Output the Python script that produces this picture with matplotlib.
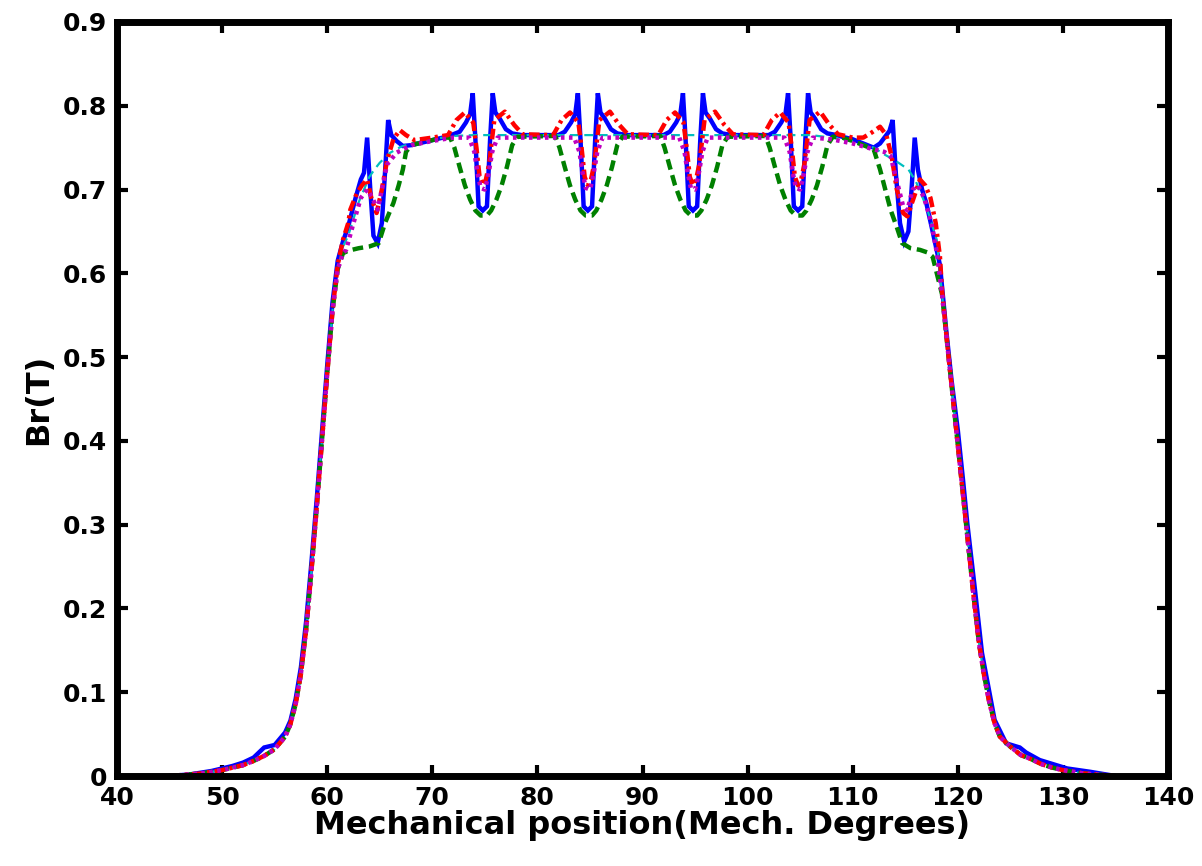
import matplotlib
matplotlib.use("Agg")
import matplotlib.pyplot as plt

# ---------------- data ----------------
blue_x = [45, 46, 47, 48, 49, 50, 51, 52, 53, 54, 55, 56, 56.5, 57, 57.5, 58, 58.5, 59, 59.5, 60, 60.5, 61, 61.5,
          62, 62.7, 63.2, 63.5, 63.8, 64.1, 64.4, 64.8, 65.2, 65.5, 65.8, 66.1, 66.6, 67.2, 68, 69, 70, 71,
          72, 72.6, 73.2, 73.6, 73.85, 74.1, 74.4, 74.8, 75.2, 75.5, 75.75, 76.0, 76.4, 77.0, 77.6, 78.5,
          82, 82.6, 83.2, 83.6, 83.85, 84.1, 84.4, 84.8, 85.2, 85.5, 85.75, 86.0, 86.4, 87.0, 87.6, 88.5,
          92, 92.6, 93.2, 93.6, 93.85, 94.1, 94.4, 94.8, 95.2, 95.5, 95.75, 96.0, 96.4, 97.0, 97.6, 98.5,
          102, 102.6, 103.2, 103.6, 103.85, 104.1, 104.4, 104.8, 105.2, 105.5, 105.75, 106.0, 106.4, 107.0, 107.6, 108.5,
          109, 110, 111, 112, 112.6, 113.2, 113.5, 113.8, 114.1, 114.5, 114.9, 115.3, 115.6, 115.9, 116.2, 116.6,
          117, 117.5, 118.3, 118.9, 119.4, 120, 120.5, 120.9, 121.6, 122.3, 123.1, 123.5, 124.6, 125.9, 126.5,
          127.8, 130.4, 132.6, 135]
blue_y = [0, 0.001, 0.002, 0.004, 0.006, 0.009, 0.012, 0.016, 0.022, 0.034, 0.037, 0.052, 0.066, 0.092, 0.13, 0.185, 0.255, 0.33, 0.41, 0.49, 0.565, 0.615, 0.638,
          0.656, 0.69, 0.712, 0.72, 0.762, 0.70, 0.645, 0.636, 0.66, 0.72, 0.783, 0.765, 0.758, 0.752, 0.753, 0.756, 0.759, 0.762,
          0.766, 0.769, 0.78, 0.79, 0.815, 0.76, 0.68, 0.675, 0.68, 0.76, 0.815, 0.792, 0.785, 0.772, 0.767, 0.765,
          0.765, 0.769, 0.78, 0.79, 0.815, 0.76, 0.68, 0.675, 0.68, 0.76, 0.815, 0.792, 0.785, 0.772, 0.767, 0.765,
          0.765, 0.769, 0.78, 0.79, 0.815, 0.76, 0.68, 0.675, 0.68, 0.76, 0.815, 0.792, 0.785, 0.772, 0.767, 0.765,
          0.765, 0.769, 0.78, 0.79, 0.815, 0.76, 0.68, 0.675, 0.68, 0.76, 0.815, 0.792, 0.785, 0.772, 0.767, 0.765,
          0.763, 0.76, 0.755, 0.75, 0.755, 0.765, 0.77, 0.783, 0.72, 0.66, 0.638, 0.65, 0.70, 0.762, 0.724, 0.70,
          0.684, 0.656, 0.61, 0.532, 0.473, 0.413, 0.353, 0.302, 0.226, 0.147, 0.094, 0.067, 0.039, 0.034, 0.028,
          0.019, 0.009, 0.005, 0.0]

green_x = [45, 46, 47, 48, 49, 50, 51, 52, 53, 54, 55, 56, 56.5, 57, 57.5, 58, 58.5, 59, 59.5, 60, 60.5, 61, 61.5,
           62, 63, 64, 64.9, 65.5, 66, 66.3, 66.8, 67.2, 67.5, 68, 69, 70, 71, 71.7,
           72.1, 72.6, 73.1, 73.6, 74.1, 74.6, 75.2, 75.6, 76.1, 76.6, 77.1, 77.6, 78.1, 81.7,
           82.1, 82.6, 83.1, 83.6, 84.1, 84.6, 85.2, 85.6, 86.1, 86.6, 87.1, 87.6, 88.1, 91.7,
           92.1, 92.6, 93.1, 93.6, 94.1, 94.6, 95.2, 95.6, 96.1, 96.6, 97.1, 97.6, 98.1, 101.7,
           102.1, 102.6, 103.1, 103.6, 104.1, 104.6, 105.2, 105.6, 106.1, 106.6, 107.1, 107.6, 108.1,
           109, 110, 111, 112, 112.6, 113.1, 113.6, 114.2, 114.7, 115.5, 116.4, 117.1, 117.6,
           118.5, 119, 119.5, 120, 120.5, 121, 121.5, 122, 122.5, 123, 123.5, 124, 125, 126, 127, 128, 129, 130,
           131, 132, 133, 134, 135]
green_y = [0, 0.001, 0.002, 0.003, 0.005, 0.007, 0.01, 0.013, 0.018, 0.024, 0.032, 0.047, 0.062, 0.086, 0.122, 0.175, 0.245, 0.32, 0.40, 0.48, 0.555, 0.605, 0.624,
           0.627, 0.63, 0.632, 0.636, 0.66, 0.675, 0.684, 0.705, 0.724, 0.745, 0.753, 0.756, 0.759, 0.762, 0.762,
           0.75, 0.727, 0.705, 0.688, 0.675, 0.669, 0.669, 0.675, 0.688, 0.705, 0.727, 0.753, 0.763, 0.764,
           0.75, 0.727, 0.705, 0.688, 0.675, 0.669, 0.669, 0.675, 0.688, 0.705, 0.727, 0.753, 0.763, 0.764,
           0.75, 0.727, 0.705, 0.688, 0.675, 0.669, 0.669, 0.675, 0.688, 0.705, 0.727, 0.753, 0.763, 0.764,
           0.75, 0.727, 0.705, 0.688, 0.675, 0.669, 0.669, 0.675, 0.688, 0.705, 0.727, 0.753, 0.763,
           0.762, 0.758, 0.753, 0.748, 0.724, 0.70, 0.676, 0.655, 0.636, 0.63, 0.628, 0.625, 0.62,
           0.575, 0.515, 0.455, 0.395, 0.335, 0.275, 0.215, 0.16, 0.12, 0.088, 0.063, 0.047, 0.035, 0.025, 0.02, 0.014, 0.01, 0.007,
           0.005, 0.003, 0.002, 0.001, 0.0]

red_x = [45, 46, 47, 48, 49, 50, 51, 52, 53, 54, 55, 56, 56.5, 57, 57.5, 58, 58.5, 59, 59.5, 60, 60.5, 61, 61.5,
         62, 62.2, 62.8, 63.3, 63.8, 64.2, 64.7, 65.2, 65.7, 66.3, 66.9, 67.5, 68.3, 70, 71.5,
         72.3, 73.1, 73.9, 74.2, 74.5, 74.8, 75.1, 75.4, 75.9, 76.9, 77.8, 78.6, 81.5,
         82.3, 83.1, 83.9, 84.2, 84.5, 84.8, 85.1, 85.4, 85.9, 86.9, 87.8, 88.6, 91.5,
         92.3, 93.1, 93.9, 94.2, 94.5, 94.8, 95.1, 95.4, 95.9, 96.9, 97.8, 98.6, 101.5,
         102.3, 103.1, 103.9, 104.2, 104.5, 104.8, 105.1, 105.4, 105.9, 106.9, 107.8, 108.6,
         110, 111, 111.8, 112.6, 113.2, 113.7, 114.2, 114.8, 115.2, 115.8, 116.4, 116.9, 117.4, 117.9, 118.3,
         118.5, 119, 119.5, 120, 120.5, 121, 121.5, 122, 122.5, 123, 123.5, 124, 125, 126, 127, 128, 129, 130,
         131, 132, 133, 134, 135]
red_y = [0, 0.001, 0.002, 0.003, 0.005, 0.007, 0.01, 0.013, 0.018, 0.024, 0.032, 0.047, 0.062, 0.086, 0.122, 0.175, 0.245, 0.32, 0.40, 0.48, 0.555, 0.61, 0.64,
         0.66, 0.676, 0.695, 0.705, 0.712, 0.69, 0.672, 0.70, 0.735, 0.76, 0.771, 0.765, 0.759, 0.762, 0.765,
         0.783, 0.792, 0.78, 0.75, 0.715, 0.705, 0.712, 0.73, 0.783, 0.793, 0.777, 0.766, 0.765,
         0.783, 0.792, 0.78, 0.75, 0.715, 0.705, 0.712, 0.73, 0.783, 0.793, 0.777, 0.766, 0.765,
         0.783, 0.792, 0.78, 0.75, 0.715, 0.705, 0.712, 0.73, 0.783, 0.793, 0.777, 0.766, 0.765,
         0.783, 0.792, 0.78, 0.75, 0.715, 0.705, 0.712, 0.73, 0.783, 0.793, 0.777, 0.766,
         0.762, 0.762, 0.768, 0.775, 0.765, 0.74, 0.70, 0.672, 0.668, 0.69, 0.712, 0.705, 0.69, 0.66, 0.62,
         0.58, 0.515, 0.455, 0.395, 0.335, 0.275, 0.215, 0.16, 0.12, 0.088, 0.063, 0.047, 0.035, 0.025, 0.02, 0.014, 0.01, 0.007,
         0.005, 0.003, 0.002, 0.001, 0.0]

magenta_x = [45, 46, 47, 48, 49, 50, 51, 52, 53, 54, 55, 56, 56.5, 57, 57.5, 58, 58.5, 59, 59.5, 60, 60.5, 61, 61.5,
             61.8, 62.5, 63.2, 63.8, 64.3, 64.8, 65.2, 65.7, 66.6, 68, 70, 72, 73.5,
             74.0, 74.3, 74.6, 75.0, 75.3, 75.7, 76.2, 83.5,
             84.0, 84.3, 84.6, 85.0, 85.3, 85.7, 86.2, 93.5,
             94.0, 94.3, 94.6, 95.0, 95.3, 95.7, 96.2, 103.5,
             104.0, 104.3, 104.6, 105.0, 105.3, 105.7, 106.2,
             108, 110, 112, 113, 113.6, 114.2, 114.8, 115.2, 115.7, 116.2, 116.8, 117.5, 118,
             118.5, 119, 119.5, 120, 120.5, 121, 121.5, 122, 122.5, 123, 123.5, 124, 125, 126, 127, 128, 129, 130,
             131, 132, 133, 134, 135]
magenta_y = [0, 0.001, 0.002, 0.003, 0.005, 0.007, 0.01, 0.013, 0.018, 0.024, 0.032, 0.047, 0.062, 0.086, 0.122, 0.175, 0.245, 0.32, 0.40, 0.48, 0.555, 0.605, 0.624,
             0.628, 0.66, 0.69, 0.70, 0.69, 0.676, 0.70, 0.73, 0.744, 0.753, 0.758, 0.762, 0.762,
             0.745, 0.72, 0.702, 0.70, 0.715, 0.745, 0.762, 0.762,
             0.745, 0.72, 0.702, 0.70, 0.715, 0.745, 0.762, 0.762,
             0.745, 0.72, 0.702, 0.70, 0.715, 0.745, 0.762, 0.762,
             0.745, 0.72, 0.702, 0.70, 0.715, 0.745, 0.762,
             0.76, 0.755, 0.748, 0.745, 0.74, 0.71, 0.68, 0.675, 0.70, 0.705, 0.69, 0.66, 0.625,
             0.575, 0.515, 0.455, 0.395, 0.335, 0.275, 0.215, 0.16, 0.12, 0.088, 0.063, 0.047, 0.035, 0.025, 0.02, 0.014, 0.01, 0.007,
             0.005, 0.003, 0.002, 0.001, 0.0]

cyan_x = [45, 46, 47, 48, 49, 50, 51, 52, 53, 54, 55, 56, 56.5, 57, 57.5, 58, 58.5, 59, 59.5, 60, 60.5, 61, 61.5,
          62, 63, 64, 64.5, 65, 66, 67, 68, 70, 72, 74, 106, 108, 110, 112, 113, 114, 115.3, 116, 117, 118,
          118.5, 119, 119.5, 120, 120.5, 121, 121.5, 122, 122.5, 123, 123.5, 124, 125, 126, 127, 128, 129, 130,
          131, 132, 133, 134, 135]
cyan_y = [0, 0.001, 0.002, 0.003, 0.005, 0.007, 0.01, 0.013, 0.018, 0.024, 0.032, 0.047, 0.062, 0.086, 0.122, 0.175, 0.245, 0.32, 0.40, 0.48, 0.555, 0.605, 0.632,
          0.645, 0.685, 0.715, 0.724, 0.732, 0.744, 0.751, 0.755, 0.76, 0.764, 0.765, 0.765, 0.762, 0.758, 0.75, 0.742, 0.735, 0.724, 0.71, 0.68, 0.64,
          0.575, 0.515, 0.455, 0.395, 0.335, 0.275, 0.215, 0.16, 0.12, 0.088, 0.063, 0.047, 0.035, 0.025, 0.02, 0.014, 0.01, 0.007,
          0.005, 0.003, 0.002, 0.001, 0.0]

x_ticks = [40, 50, 60, 70, 80, 90, 100, 110, 120, 130, 140]
y_ticks = [0, 0.1, 0.2, 0.3, 0.4, 0.5, 0.6, 0.7, 0.8, 0.9]
x_label = "Mechanical position(Mech. Degrees)"
y_label = "Br(T)"

# ---------------- plot ----------------
plt.rcParams['font.family'] = ['DejaVu Sans']
fig = plt.figure(figsize=(12.02, 8.66), dpi=100)
ax = fig.add_axes([117 / 1202, 1 - 776 / 866, (1168 - 117) / 1202, (776 - 22) / 866])

ax.plot(blue_x, blue_y, color='#0000ff', lw=3.2, solid_joinstyle='miter')
ax.plot(cyan_x, cyan_y, color='#00bfbf', lw=1.6, linestyle=(0, (4, 2.5)))
ax.plot(green_x, green_y, color='#008000', lw=3.2, linestyle=(0, (2.4, 1.3)))
ax.plot(red_x, red_y, color='#ff0000', lw=3.2, linestyle=(0, (2.4, 1.0, 0.7, 1.0)))
ax.plot(magenta_x, magenta_y, color='#bf00bf', lw=3.2, linestyle=(0, (0.8, 1.0)))

ax.set_xlim(40, 140)
ax.set_ylim(0, 0.9)
ax.set_xticks(x_ticks)
ax.set_yticks(y_ticks)
ax.set_xticklabels([str(v) for v in x_ticks])
ax.set_yticklabels(['0' if v == 0 else f"{v:.1f}" for v in y_ticks])

for s in ax.spines.values():
    s.set_linewidth(5.0)
    s.set_color('black')
ax.tick_params(direction='in', length=8, width=3, top=True, right=True,
               labelsize=18, pad=7, color='black')
for lbl in ax.get_xticklabels() + ax.get_yticklabels():
    lbl.set_fontweight('bold')

ax.set_xlabel(x_label, fontsize=23, fontweight='bold', labelpad=0)
ax.set_ylabel(y_label, fontsize=23, fontweight='bold', labelpad=6)

fig.savefig('out.png', dpi=100)
